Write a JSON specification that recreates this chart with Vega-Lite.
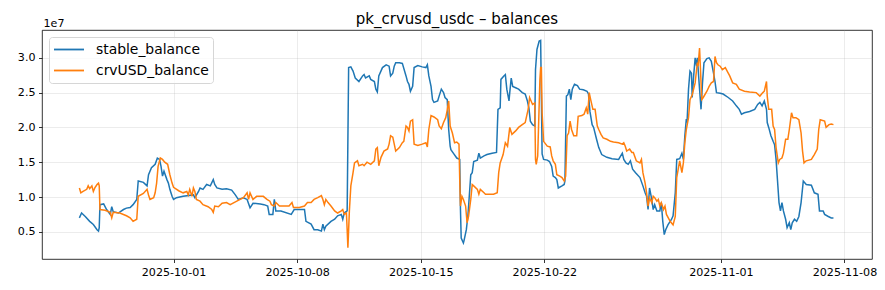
{
"$schema": "https://vega.github.io/schema/vega-lite/v6.json",
"width": 830, "height": 229,
"autosize": {"type": "none"},
"padding": {"left": 42, "top": 30, "right": 13, "bottom": 31},
"title": {"text": "pk_crvusd_usdc – balances", "fontSize": 15, "font": "DejaVu Sans", "fontWeight": "normal", "color": "black", "anchor": "middle", "offset": 6, "dy": 16},
"datasets": {
"stable": [
{"t":"2025-09-25T16:00","v":7000000},{"t":"2025-09-25T19:00","v":7700000},{"t":"2025-09-26T00:00","v":7200000},{"t":"2025-09-26T06:00","v":6500000},{"t":"2025-09-26T11:00","v":6050000},{"t":"2025-09-26T16:00","v":5300000},{"t":"2025-09-26T18:00","v":5100000},{"t":"2025-09-26T19:00","v":5600000},{"t":"2025-09-26T20:00","v":8900000},
{"t":"2025-09-27T01:00","v":9000000},{"t":"2025-09-27T05:00","v":8200000},{"t":"2025-09-27T10:00","v":7500000},{"t":"2025-09-27T12:00","v":8600000},{"t":"2025-09-27T14:00","v":7900000},{"t":"2025-09-27T21:00","v":7700000},
{"t":"2025-09-28T04:00","v":8200000},{"t":"2025-09-28T08:00","v":8400000},{"t":"2025-09-28T13:00","v":8500000},{"t":"2025-09-28T17:00","v":8900000},{"t":"2025-09-28T22:00","v":9650000},
{"t":"2025-09-29T00:00","v":12300000},{"t":"2025-09-29T07:00","v":12100000},{"t":"2025-09-29T12:00","v":11600000},{"t":"2025-09-29T14:00","v":13200000},{"t":"2025-09-29T18:00","v":14200000},{"t":"2025-09-29T23:00","v":14700000},
{"t":"2025-09-30T02:00","v":15600000},{"t":"2025-09-30T05:00","v":15400000},{"t":"2025-09-30T07:00","v":14400000},{"t":"2025-09-30T09:00","v":13000000},{"t":"2025-09-30T11:00","v":13700000},{"t":"2025-09-30T15:00","v":12500000},{"t":"2025-09-30T17:00","v":12000000},{"t":"2025-09-30T19:00","v":11100000},{"t":"2025-09-30T22:00","v":10100000},
{"t":"2025-10-01T00:00","v":9650000},{"t":"2025-10-01T04:00","v":9900000},{"t":"2025-10-01T13:00","v":10100000},
{"t":"2025-10-02T03:00","v":10300000},{"t":"2025-10-02T05:00","v":9900000},{"t":"2025-10-02T10:00","v":10800000},{"t":"2025-10-02T12:00","v":11300000},{"t":"2025-10-02T16:00","v":11100000},{"t":"2025-10-02T21:00","v":11800000},
{"t":"2025-10-03T02:00","v":11600000},{"t":"2025-10-03T06:00","v":12500000},{"t":"2025-10-03T08:00","v":11800000},{"t":"2025-10-03T11:00","v":11300000},{"t":"2025-10-03T18:00","v":11100000},
{"t":"2025-10-04T00:00","v":11200000},{"t":"2025-10-04T07:00","v":11000000},{"t":"2025-10-04T12:00","v":10300000},{"t":"2025-10-04T16:00","v":9650000},{"t":"2025-10-04T23:00","v":9900000},
{"t":"2025-10-05T04:00","v":9650000},{"t":"2025-10-05T08:00","v":8450000},{"t":"2025-10-05T12:00","v":9100000},{"t":"2025-10-05T22:00","v":9000000},
{"t":"2025-10-06T03:00","v":8900000},{"t":"2025-10-06T08:00","v":8700000},{"t":"2025-10-06T10:00","v":7500000},{"t":"2025-10-06T15:00","v":7500000},{"t":"2025-10-06T17:00","v":9650000},{"t":"2025-10-06T19:00","v":8000000},
{"t":"2025-10-07T02:00","v":8000000},{"t":"2025-10-07T16:00","v":7500000},{"t":"2025-10-07T20:00","v":8200000},
{"t":"2025-10-08T10:00","v":8200000},{"t":"2025-10-08T12:00","v":6500000},{"t":"2025-10-08T19:00","v":6100000},{"t":"2025-10-08T23:00","v":5300000},
{"t":"2025-10-09T04:00","v":5300000},{"t":"2025-10-09T09:00","v":5100000},{"t":"2025-10-09T11:00","v":6100000},{"t":"2025-10-09T13:00","v":5300000},{"t":"2025-10-09T15:00","v":5800000},{"t":"2025-10-09T22:00","v":6500000},
{"t":"2025-10-10T03:00","v":6800000},{"t":"2025-10-10T07:00","v":7300000},{"t":"2025-10-10T12:00","v":7500000},{"t":"2025-10-10T14:00","v":6800000},{"t":"2025-10-10T16:00","v":7700000},{"t":"2025-10-10T20:00","v":8000000},{"t":"2025-10-10T22:00","v":28600000},
{"t":"2025-10-11T01:00","v":28700000},{"t":"2025-10-11T04:00","v":28100000},{"t":"2025-10-11T07:00","v":27100000},{"t":"2025-10-11T12:00","v":26600000},{"t":"2025-10-11T17:00","v":27400000},{"t":"2025-10-11T19:00","v":27600000},{"t":"2025-10-11T21:00","v":27100000},
{"t":"2025-10-12T02:00","v":27400000},{"t":"2025-10-12T04:00","v":26900000},{"t":"2025-10-12T09:00","v":26600000},{"t":"2025-10-12T11:00","v":25500000},{"t":"2025-10-12T13:00","v":25100000},{"t":"2025-10-12T15:00","v":27400000},{"t":"2025-10-12T20:00","v":28600000},
{"t":"2025-10-13T01:00","v":29000000},{"t":"2025-10-13T05:00","v":28800000},{"t":"2025-10-13T07:00","v":27400000},{"t":"2025-10-13T10:00","v":27800000},{"t":"2025-10-13T12:00","v":28800000},{"t":"2025-10-13T14:00","v":29300000},{"t":"2025-10-13T19:00","v":29300000},{"t":"2025-10-13T23:00","v":29200000},
{"t":"2025-10-14T04:00","v":27400000},{"t":"2025-10-14T06:00","v":26600000},{"t":"2025-10-14T08:00","v":26200000},{"t":"2025-10-14T10:00","v":25200000},{"t":"2025-10-14T13:00","v":25900000},{"t":"2025-10-14T15:00","v":28600000},{"t":"2025-10-14T20:00","v":28900000},
{"t":"2025-10-15T02:00","v":28700000},{"t":"2025-10-15T07:00","v":28600000},{"t":"2025-10-15T09:00","v":29000000},{"t":"2025-10-15T11:00","v":27400000},{"t":"2025-10-15T14:00","v":25900000},{"t":"2025-10-15T16:00","v":24000000},{"t":"2025-10-15T18:00","v":23600000},{"t":"2025-10-15T23:00","v":23800000},
{"t":"2025-10-16T01:00","v":24500000},{"t":"2025-10-16T04:00","v":25500000},{"t":"2025-10-16T07:00","v":25000000},{"t":"2025-10-16T09:00","v":24300000},{"t":"2025-10-16T12:00","v":24000000},{"t":"2025-10-16T14:00","v":19700000},{"t":"2025-10-16T16:00","v":17300000},{"t":"2025-10-16T17:00","v":16800000},{"t":"2025-10-16T21:00","v":16200000},
{"t":"2025-10-17T01:00","v":15600000},{"t":"2025-10-17T05:00","v":15400000},{"t":"2025-10-17T06:00","v":8200000},{"t":"2025-10-17T07:00","v":4100000},{"t":"2025-10-17T10:00","v":3400000},{"t":"2025-10-17T11:00","v":3800000},{"t":"2025-10-17T14:00","v":5300000},{"t":"2025-10-17T16:00","v":7200000},{"t":"2025-10-17T17:00","v":8600000},{"t":"2025-10-17T20:00","v":13200000},{"t":"2025-10-17T22:00","v":13500000},
{"t":"2025-10-18T00:00","v":15100000},{"t":"2025-10-18T05:00","v":15300000},{"t":"2025-10-18T07:00","v":16300000},{"t":"2025-10-18T09:00","v":15600000},{"t":"2025-10-18T14:00","v":15900000},{"t":"2025-10-18T18:00","v":16100000},
{"t":"2025-10-19T01:00","v":16300000},{"t":"2025-10-19T07:00","v":16400000},{"t":"2025-10-19T09:00","v":22600000},{"t":"2025-10-19T12:00","v":22800000},{"t":"2025-10-19T13:00","v":26900000},{"t":"2025-10-19T17:00","v":27400000},{"t":"2025-10-19T19:00","v":27600000},{"t":"2025-10-19T21:00","v":25500000},
{"t":"2025-10-20T00:00","v":23800000},{"t":"2025-10-20T01:00","v":25000000},{"t":"2025-10-20T03:00","v":27100000},{"t":"2025-10-20T05:00","v":25900000},{"t":"2025-10-20T09:00","v":25700000},{"t":"2025-10-20T13:00","v":25500000},{"t":"2025-10-20T18:00","v":25000000},{"t":"2025-10-20T22:00","v":24800000},
{"t":"2025-10-21T01:00","v":23800000},{"t":"2025-10-21T03:00","v":22800000},{"t":"2025-10-21T05:00","v":20900000},{"t":"2025-10-21T08:00","v":20400000},{"t":"2025-10-21T11:00","v":20200000},{"t":"2025-10-21T12:00","v":28300000},{"t":"2025-10-21T14:00","v":31200000},{"t":"2025-10-21T17:00","v":32400000},{"t":"2025-10-21T19:00","v":32500000},{"t":"2025-10-21T21:00","v":16200000},{"t":"2025-10-21T23:00","v":15400000},
{"t":"2025-10-22T04:00","v":15300000},{"t":"2025-10-22T07:00","v":15100000},{"t":"2025-10-22T10:00","v":14400000},{"t":"2025-10-22T12:00","v":13000000},{"t":"2025-10-22T15:00","v":12800000},{"t":"2025-10-22T17:00","v":12500000},{"t":"2025-10-22T19:00","v":11300000},
{"t":"2025-10-23T00:00","v":11600000},{"t":"2025-10-23T03:00","v":11800000},{"t":"2025-10-23T04:00","v":12300000},{"t":"2025-10-23T06:00","v":24500000},{"t":"2025-10-23T08:00","v":24700000},{"t":"2025-10-23T10:00","v":25500000},{"t":"2025-10-23T12:00","v":24000000},{"t":"2025-10-23T14:00","v":25500000},{"t":"2025-10-23T17:00","v":26200000},{"t":"2025-10-23T21:00","v":26000000},
{"t":"2025-10-24T00:00","v":25500000},{"t":"2025-10-24T05:00","v":25400000},{"t":"2025-10-24T10:00","v":25200000},{"t":"2025-10-24T12:00","v":24800000},{"t":"2025-10-24T14:00","v":22300000},{"t":"2025-10-24T17:00","v":20400000},{"t":"2025-10-24T19:00","v":20000000},{"t":"2025-10-24T23:00","v":18300000},
{"t":"2025-10-25T02:00","v":17100000},{"t":"2025-10-25T06:00","v":16100000},{"t":"2025-10-25T13:00","v":15700000},{"t":"2025-10-25T20:00","v":15500000},
{"t":"2025-10-26T05:00","v":15400000},{"t":"2025-10-26T10:00","v":16300000},{"t":"2025-10-26T12:00","v":15400000},{"t":"2025-10-26T15:00","v":14900000},{"t":"2025-10-26T18:00","v":14700000},{"t":"2025-10-26T21:00","v":15200000},
{"t":"2025-10-27T00:00","v":14000000},{"t":"2025-10-27T04:00","v":13500000},{"t":"2025-10-27T10:00","v":12800000},{"t":"2025-10-27T14:00","v":11600000},{"t":"2025-10-27T17:00","v":10600000},{"t":"2025-10-27T19:00","v":10100000},{"t":"2025-10-27T21:00","v":8200000},{"t":"2025-10-27T23:00","v":11300000},
{"t":"2025-10-28T02:00","v":9650000},{"t":"2025-10-28T04:00","v":8200000},{"t":"2025-10-28T06:00","v":8900000},{"t":"2025-10-28T09:00","v":8000000},{"t":"2025-10-28T13:00","v":8000000},{"t":"2025-10-28T15:00","v":9200000},{"t":"2025-10-28T17:00","v":6500000},{"t":"2025-10-28T19:00","v":4600000},{"t":"2025-10-28T21:00","v":5300000},
{"t":"2025-10-29T00:00","v":6000000},{"t":"2025-10-29T05:00","v":6800000},{"t":"2025-10-29T07:00","v":7300000},{"t":"2025-10-29T10:00","v":10600000},{"t":"2025-10-29T12:00","v":15400000},{"t":"2025-10-29T16:00","v":15500000},{"t":"2025-10-29T19:00","v":16300000},{"t":"2025-10-29T21:00","v":15400000},{"t":"2025-10-29T23:00","v":18800000},
{"t":"2025-10-30T01:00","v":21200000},{"t":"2025-10-30T02:00","v":20700000},{"t":"2025-10-30T04:00","v":25500000},{"t":"2025-10-30T06:00","v":28100000},{"t":"2025-10-30T08:00","v":27800000},{"t":"2025-10-30T09:00","v":24300000},{"t":"2025-10-30T11:00","v":27400000},{"t":"2025-10-30T13:00","v":30000000},{"t":"2025-10-30T15:00","v":28800000},{"t":"2025-10-30T16:00","v":30000000},{"t":"2025-10-30T19:00","v":25500000},{"t":"2025-10-30T21:00","v":22600000},{"t":"2025-10-30T23:00","v":26400000},
{"t":"2025-10-31T01:00","v":29300000},{"t":"2025-10-31T05:00","v":29900000},{"t":"2025-10-31T08:00","v":30000000},{"t":"2025-10-31T11:00","v":29500000},{"t":"2025-10-31T14:00","v":27800000},{"t":"2025-10-31T16:00","v":26600000},{"t":"2025-10-31T18:00","v":25000000},{"t":"2025-10-31T23:00","v":24900000},
{"t":"2025-11-01T03:00","v":24800000},{"t":"2025-11-01T10:00","v":24300000},{"t":"2025-11-01T16:00","v":23800000},{"t":"2025-11-01T21:00","v":23100000},
{"t":"2025-11-02T01:00","v":22600000},{"t":"2025-11-02T04:00","v":21900000},{"t":"2025-11-02T08:00","v":22100000},{"t":"2025-11-02T15:00","v":22300000},{"t":"2025-11-02T22:00","v":22600000},
{"t":"2025-11-03T02:00","v":23300000},{"t":"2025-11-03T05:00","v":23600000},{"t":"2025-11-03T08:00","v":23100000},{"t":"2025-11-03T11:00","v":23800000},{"t":"2025-11-03T14:00","v":22600000},{"t":"2025-11-03T15:00","v":20700000},{"t":"2025-11-03T17:00","v":20000000},{"t":"2025-11-03T20:00","v":18800000},{"t":"2025-11-03T23:00","v":18000000},
{"t":"2025-11-04T01:00","v":17500000},{"t":"2025-11-04T03:00","v":15400000},{"t":"2025-11-04T05:00","v":12300000},{"t":"2025-11-04T07:00","v":9200000},{"t":"2025-11-04T09:00","v":8000000},{"t":"2025-11-04T11:00","v":9200000},{"t":"2025-11-04T13:00","v":8000000},{"t":"2025-11-04T16:00","v":6800000},{"t":"2025-11-04T18:00","v":5600000},{"t":"2025-11-04T21:00","v":6300000},{"t":"2025-11-04T23:00","v":5300000},
{"t":"2025-11-05T01:00","v":6300000},{"t":"2025-11-05T04:00","v":6800000},{"t":"2025-11-05T07:00","v":6500000},{"t":"2025-11-05T10:00","v":7200000},{"t":"2025-11-05T13:00","v":9200000},{"t":"2025-11-05T16:00","v":12300000},{"t":"2025-11-05T20:00","v":11800000},
{"t":"2025-11-06T03:00","v":11700000},{"t":"2025-11-06T07:00","v":10600000},{"t":"2025-11-06T12:00","v":10400000},{"t":"2025-11-06T14:00","v":8000000},{"t":"2025-11-06T19:00","v":8000000},{"t":"2025-11-06T21:00","v":7500000},
{"t":"2025-11-07T02:00","v":7200000},{"t":"2025-11-07T06:00","v":7000000},{"t":"2025-11-07T09:00","v":7000000}
],
"crvusd": [
{"t":"2025-09-25T16:00","v":11300000},{"t":"2025-09-25T18:00","v":10600000},{"t":"2025-09-25T21:00","v":10800000},{"t":"2025-09-26T02:00","v":11100000},{"t":"2025-09-26T04:00","v":11600000},{"t":"2025-09-26T06:00","v":11200000},{"t":"2025-09-26T09:00","v":11600000},{"t":"2025-09-26T11:00","v":10800000},{"t":"2025-09-26T13:00","v":11300000},{"t":"2025-09-26T16:00","v":11800000},{"t":"2025-09-26T18:00","v":12000000},{"t":"2025-09-26T19:00","v":11600000},{"t":"2025-09-26T20:00","v":8200000},
{"t":"2025-09-27T03:00","v":8100000},{"t":"2025-09-27T10:00","v":7800000},{"t":"2025-09-27T12:00","v":7000000},{"t":"2025-09-27T14:00","v":7800000},{"t":"2025-09-27T23:00","v":7700000},
{"t":"2025-09-28T08:00","v":7300000},{"t":"2025-09-28T13:00","v":7000000},{"t":"2025-09-28T17:00","v":6500000},{"t":"2025-09-28T22:00","v":6800000},
{"t":"2025-09-29T00:00","v":10100000},{"t":"2025-09-29T07:00","v":10500000},{"t":"2025-09-29T12:00","v":11100000},{"t":"2025-09-29T14:00","v":10300000},{"t":"2025-09-29T16:00","v":9650000},{"t":"2025-09-29T21:00","v":9900000},{"t":"2025-09-29T23:00","v":10600000},
{"t":"2025-09-30T01:00","v":12000000},{"t":"2025-09-30T03:00","v":14400000},{"t":"2025-09-30T06:00","v":15600000},{"t":"2025-09-30T09:00","v":15400000},{"t":"2025-09-30T12:00","v":15000000},{"t":"2025-09-30T16:00","v":14700000},{"t":"2025-09-30T19:00","v":13200000},{"t":"2025-09-30T22:00","v":12000000},
{"t":"2025-10-01T00:00","v":11400000},{"t":"2025-10-01T07:00","v":10900000},{"t":"2025-10-01T13:00","v":10600000},{"t":"2025-10-01T18:00","v":10800000},{"t":"2025-10-01T20:00","v":10300000},{"t":"2025-10-01T22:00","v":11100000},
{"t":"2025-10-02T01:00","v":10100000},{"t":"2025-10-02T03:00","v":11300000},{"t":"2025-10-02T05:00","v":10800000},{"t":"2025-10-02T07:00","v":9650000},{"t":"2025-10-02T12:00","v":9400000},{"t":"2025-10-02T16:00","v":8900000},{"t":"2025-10-02T23:00","v":8600000},
{"t":"2025-10-03T04:00","v":8200000},{"t":"2025-10-03T06:00","v":7800000},{"t":"2025-10-03T08:00","v":8700000},{"t":"2025-10-03T13:00","v":8600000},{"t":"2025-10-03T18:00","v":9100000},
{"t":"2025-10-04T00:00","v":9200000},{"t":"2025-10-04T05:00","v":8900000},{"t":"2025-10-04T14:00","v":9400000},{"t":"2025-10-04T23:00","v":9900000},
{"t":"2025-10-05T04:00","v":10600000},{"t":"2025-10-05T06:00","v":9650000},{"t":"2025-10-05T08:00","v":10600000},{"t":"2025-10-05T12:00","v":9650000},{"t":"2025-10-05T17:00","v":10100000},
{"t":"2025-10-06T02:00","v":10100000},{"t":"2025-10-06T07:00","v":9650000},{"t":"2025-10-06T11:00","v":9400000},{"t":"2025-10-06T13:00","v":8900000},{"t":"2025-10-06T17:00","v":8700000},{"t":"2025-10-06T19:00","v":9200000},
{"t":"2025-10-07T00:00","v":8700000},{"t":"2025-10-07T13:00","v":8700000},{"t":"2025-10-07T17:00","v":9200000},{"t":"2025-10-07T19:00","v":8500000},
{"t":"2025-10-08T03:00","v":8500000},{"t":"2025-10-08T10:00","v":8700000},{"t":"2025-10-08T14:00","v":9200000},{"t":"2025-10-08T19:00","v":9200000},{"t":"2025-10-08T23:00","v":9650000},
{"t":"2025-10-09T04:00","v":9900000},{"t":"2025-10-09T09:00","v":10200000},{"t":"2025-10-09T11:00","v":9650000},{"t":"2025-10-09T13:00","v":8900000},{"t":"2025-10-09T15:00","v":9650000},{"t":"2025-10-09T18:00","v":9200000},{"t":"2025-10-09T22:00","v":8700000},
{"t":"2025-10-10T03:00","v":8000000},{"t":"2025-10-10T07:00","v":7700000},{"t":"2025-10-10T12:00","v":8000000},{"t":"2025-10-10T14:00","v":8200000},{"t":"2025-10-10T16:00","v":7500000},{"t":"2025-10-10T19:00","v":7700000},{"t":"2025-10-10T20:00","v":5300000},{"t":"2025-10-10T21:00","v":2700000},{"t":"2025-10-10T22:00","v":5300000},{"t":"2025-10-10T23:00","v":8000000},
{"t":"2025-10-11T01:00","v":11600000},{"t":"2025-10-11T04:00","v":13500000},{"t":"2025-10-11T06:00","v":14900000},{"t":"2025-10-11T10:00","v":15200000},{"t":"2025-10-11T12:00","v":14500000},{"t":"2025-10-11T17:00","v":14700000},{"t":"2025-10-11T19:00","v":14500000},{"t":"2025-10-11T23:00","v":15000000},
{"t":"2025-10-12T04:00","v":14700000},{"t":"2025-10-12T09:00","v":15200000},{"t":"2025-10-12T11:00","v":16900000},{"t":"2025-10-12T13:00","v":17100000},{"t":"2025-10-12T15:00","v":14500000},{"t":"2025-10-12T18:00","v":15700000},{"t":"2025-10-12T22:00","v":16600000},
{"t":"2025-10-13T03:00","v":16900000},{"t":"2025-10-13T05:00","v":17600000},{"t":"2025-10-13T07:00","v":18800000},{"t":"2025-10-13T10:00","v":18600000},{"t":"2025-10-13T12:00","v":17600000},{"t":"2025-10-13T14:00","v":16600000},{"t":"2025-10-13T19:00","v":17100000},{"t":"2025-10-13T23:00","v":17800000},
{"t":"2025-10-14T01:00","v":18000000},{"t":"2025-10-14T04:00","v":20200000},{"t":"2025-10-14T06:00","v":20000000},{"t":"2025-10-14T08:00","v":19500000},{"t":"2025-10-14T10:00","v":20900000},{"t":"2025-10-14T13:00","v":21100000},{"t":"2025-10-14T15:00","v":17600000},{"t":"2025-10-14T20:00","v":17400000},
{"t":"2025-10-15T02:00","v":17600000},{"t":"2025-10-15T07:00","v":17800000},{"t":"2025-10-15T09:00","v":17200000},{"t":"2025-10-15T11:00","v":19700000},{"t":"2025-10-15T14:00","v":21700000},{"t":"2025-10-15T18:00","v":21500000},{"t":"2025-10-15T23:00","v":21100000},
{"t":"2025-10-16T01:00","v":20200000},{"t":"2025-10-16T04:00","v":19800000},{"t":"2025-10-16T07:00","v":20700000},{"t":"2025-10-16T10:00","v":21400000},{"t":"2025-10-16T12:00","v":22500000},{"t":"2025-10-16T14:00","v":23800000},{"t":"2025-10-16T16:00","v":20200000},{"t":"2025-10-16T19:00","v":19200000},{"t":"2025-10-16T22:00","v":17800000},
{"t":"2025-10-17T01:00","v":17900000},{"t":"2025-10-17T04:00","v":17600000},{"t":"2025-10-17T05:00","v":12600000},{"t":"2025-10-17T06:00","v":8700000},{"t":"2025-10-17T08:00","v":10100000},{"t":"2025-10-17T10:00","v":9650000},{"t":"2025-10-17T13:00","v":8700000},{"t":"2025-10-17T15:00","v":6300000},{"t":"2025-10-17T17:00","v":7200000},{"t":"2025-10-17T20:00","v":9650000},{"t":"2025-10-17T22:00","v":11800000},
{"t":"2025-10-18T00:00","v":11600000},{"t":"2025-10-18T05:00","v":11100000},{"t":"2025-10-18T07:00","v":10400000},{"t":"2025-10-18T09:00","v":11100000},{"t":"2025-10-18T14:00","v":10600000},{"t":"2025-10-18T16:00","v":10400000},{"t":"2025-10-18T21:00","v":10400000},
{"t":"2025-10-19T03:00","v":10400000},{"t":"2025-10-19T08:00","v":10600000},{"t":"2025-10-19T10:00","v":13500000},{"t":"2025-10-19T12:00","v":14900000},{"t":"2025-10-19T16:00","v":16100000},{"t":"2025-10-19T19:00","v":17800000},{"t":"2025-10-19T22:00","v":17300000},
{"t":"2025-10-20T01:00","v":20000000},{"t":"2025-10-20T04:00","v":19000000},{"t":"2025-10-20T09:00","v":19500000},{"t":"2025-10-20T13:00","v":20000000},{"t":"2025-10-20T18:00","v":20400000},{"t":"2025-10-20T22:00","v":20700000},
{"t":"2025-10-21T02:00","v":22600000},{"t":"2025-10-21T04:00","v":24300000},{"t":"2025-10-21T08:00","v":23300000},{"t":"2025-10-21T11:00","v":23500000},{"t":"2025-10-21T12:00","v":15400000},{"t":"2025-10-21T13:00","v":14700000},{"t":"2025-10-21T15:00","v":15900000},{"t":"2025-10-21T18:00","v":26900000},{"t":"2025-10-21T19:00","v":28600000},{"t":"2025-10-21T20:00","v":28600000},{"t":"2025-10-21T21:00","v":22100000},{"t":"2025-10-21T23:00","v":18000000},
{"t":"2025-10-22T04:00","v":17300000},{"t":"2025-10-22T08:00","v":17200000},{"t":"2025-10-22T10:00","v":15900000},{"t":"2025-10-22T12:00","v":15200000},{"t":"2025-10-22T15:00","v":14700000},{"t":"2025-10-22T17:00","v":13200000},{"t":"2025-10-22T21:00","v":13000000},
{"t":"2025-10-23T00:00","v":12800000},{"t":"2025-10-23T03:00","v":12300000},{"t":"2025-10-23T05:00","v":13000000},{"t":"2025-10-23T07:00","v":18800000},{"t":"2025-10-23T09:00","v":19200000},{"t":"2025-10-23T11:00","v":20900000},{"t":"2025-10-23T13:00","v":19700000},{"t":"2025-10-23T16:00","v":18800000},{"t":"2025-10-23T20:00","v":18800000},{"t":"2025-10-23T22:00","v":21600000},
{"t":"2025-10-24T03:00","v":21700000},{"t":"2025-10-24T06:00","v":21900000},{"t":"2025-10-24T09:00","v":22800000},{"t":"2025-10-24T11:00","v":21900000},{"t":"2025-10-24T13:00","v":25000000},{"t":"2025-10-24T15:00","v":24000000},{"t":"2025-10-24T18:00","v":22600000},{"t":"2025-10-24T21:00","v":22600000},
{"t":"2025-10-25T00:00","v":20200000},{"t":"2025-10-25T02:00","v":19700000},{"t":"2025-10-25T05:00","v":19000000},{"t":"2025-10-25T08:00","v":18500000},{"t":"2025-10-25T13:00","v":18300000},{"t":"2025-10-25T18:00","v":18000000},{"t":"2025-10-25T22:00","v":17900000},
{"t":"2025-10-26T05:00","v":17800000},{"t":"2025-10-26T10:00","v":17600000},{"t":"2025-10-26T12:00","v":17800000},{"t":"2025-10-26T14:00","v":17300000},{"t":"2025-10-26T16:00","v":16600000},{"t":"2025-10-26T20:00","v":16900000},{"t":"2025-10-26T23:00","v":16400000},
{"t":"2025-10-27T01:00","v":16400000},{"t":"2025-10-27T05:00","v":15200000},{"t":"2025-10-27T10:00","v":14900000},{"t":"2025-10-27T12:00","v":15400000},{"t":"2025-10-27T14:00","v":13500000},{"t":"2025-10-27T17:00","v":12000000},{"t":"2025-10-27T19:00","v":10600000},{"t":"2025-10-27T21:00","v":8700000},{"t":"2025-10-27T23:00","v":9900000},
{"t":"2025-10-28T02:00","v":9200000},{"t":"2025-10-28T04:00","v":10100000},{"t":"2025-10-28T06:00","v":9900000},{"t":"2025-10-28T09:00","v":9400000},{"t":"2025-10-28T11:00","v":9650000},{"t":"2025-10-28T13:00","v":8700000},{"t":"2025-10-28T15:00","v":9200000},{"t":"2025-10-28T18:00","v":8200000},{"t":"2025-10-28T20:00","v":8700000},{"t":"2025-10-28T22:00","v":7500000},
{"t":"2025-10-29T03:00","v":6500000},{"t":"2025-10-29T07:00","v":6000000},{"t":"2025-10-29T10:00","v":7200000},{"t":"2025-10-29T12:00","v":12800000},{"t":"2025-10-29T14:00","v":14000000},{"t":"2025-10-29T16:00","v":15200000},{"t":"2025-10-29T19:00","v":13500000},{"t":"2025-10-29T21:00","v":14900000},{"t":"2025-10-29T23:00","v":17800000},
{"t":"2025-10-30T01:00","v":19700000},{"t":"2025-10-30T04:00","v":21400000},{"t":"2025-10-30T06:00","v":24000000},{"t":"2025-10-30T09:00","v":24700000},{"t":"2025-10-30T13:00","v":26400000},{"t":"2025-10-30T16:00","v":29300000},{"t":"2025-10-30T17:00","v":28800000},{"t":"2025-10-30T19:00","v":31400000},{"t":"2025-10-30T22:00","v":24000000},
{"t":"2025-10-31T00:00","v":24300000},{"t":"2025-10-31T05:00","v":25200000},{"t":"2025-10-31T08:00","v":25900000},{"t":"2025-10-31T11:00","v":26400000},{"t":"2025-10-31T14:00","v":26600000},{"t":"2025-10-31T16:00","v":30200000},{"t":"2025-10-31T18:00","v":29300000},{"t":"2025-10-31T20:00","v":29000000},{"t":"2025-10-31T23:00","v":28800000},
{"t":"2025-11-01T02:00","v":28300000},{"t":"2025-11-01T06:00","v":28600000},{"t":"2025-11-01T10:00","v":27800000},{"t":"2025-11-01T12:00","v":27400000},{"t":"2025-11-01T16:00","v":26400000},{"t":"2025-11-01T21:00","v":26200000},
{"t":"2025-11-02T01:00","v":25500000},{"t":"2025-11-02T08:00","v":25200000},{"t":"2025-11-02T15:00","v":25100000},
{"t":"2025-11-03T00:00","v":25000000},{"t":"2025-11-03T05:00","v":24500000},{"t":"2025-11-03T09:00","v":25000000},{"t":"2025-11-03T11:00","v":25200000},{"t":"2025-11-03T14:00","v":26600000},{"t":"2025-11-03T15:00","v":24500000},{"t":"2025-11-03T17:00","v":22600000},{"t":"2025-11-03T21:00","v":22600000},{"t":"2025-11-03T23:00","v":20200000},
{"t":"2025-11-04T01:00","v":19700000},{"t":"2025-11-04T03:00","v":17100000},{"t":"2025-11-04T06:00","v":14900000},{"t":"2025-11-04T08:00","v":15400000},{"t":"2025-11-04T11:00","v":15600000},{"t":"2025-11-04T13:00","v":16300000},{"t":"2025-11-04T16:00","v":18300000},{"t":"2025-11-04T19:00","v":18300000},{"t":"2025-11-04T21:00","v":19700000},
{"t":"2025-11-05T00:00","v":22100000},{"t":"2025-11-05T02:00","v":21400000},{"t":"2025-11-05T06:00","v":21400000},{"t":"2025-11-05T10:00","v":21100000},{"t":"2025-11-05T13:00","v":19200000},{"t":"2025-11-05T15:00","v":16600000},{"t":"2025-11-05T17:00","v":14900000},{"t":"2025-11-05T20:00","v":15200000},
{"t":"2025-11-06T03:00","v":15400000},{"t":"2025-11-06T07:00","v":16100000},{"t":"2025-11-06T11:00","v":16900000},{"t":"2025-11-06T13:00","v":19700000},{"t":"2025-11-06T15:00","v":21100000},{"t":"2025-11-06T21:00","v":20900000},{"t":"2025-11-06T23:00","v":20000000},
{"t":"2025-11-07T03:00","v":20400000},{"t":"2025-11-07T06:00","v":20500000},{"t":"2025-11-07T09:00","v":20400000}
]
},
"encoding": {
 "x": {"field": "t", "type": "temporal",
  "scale": {"domain": [{"year": 2025, "month": 9, "date": 23, "hours": 13, "minutes": 12}, {"year": 2025, "month": 11, "date": 9, "hours": 13, "minutes": 24}]},
  "axis": {"title": null, "format": "%Y-%m-%d", "labelAngle": 0, "labelFlush": false, "labelOverlap": false,
   "values": [{"year": 2025, "month": 10, "date": 1}, {"year": 2025, "month": 10, "date": 8}, {"year": 2025, "month": 10, "date": 15}, {"year": 2025, "month": 10, "date": 22}, {"year": 2025, "month": 11, "date": 1}, {"year": 2025, "month": 11, "date": 8}]}},
 "y": {"field": "v", "type": "quantitative",
  "scale": {"domain": [1090000, 34000000], "nice": false, "zero": false},
  "axis": {"title": "1e7", "titleAngle": 0, "titleAlign": "left", "titleBaseline": "alphabetic", "titleX": 1, "titleY": -4, "titleFontWeight": "normal", "titleFontSize": 11.1, "titleFont": "DejaVu Sans",
   "values": [5000000, 10000000, 15000000, 20000000, 25000000, 30000000], "labelExpr": "format(datum.value/1e7, '.1f')"}}
},
"layer": [
 {"data": {"name": "stable"}, "mark": {"type": "line", "strokeWidth": 1.5},
  "encoding": {"color": {"datum": "stable_balance", "scale": {"domain": ["stable_balance", "crvUSD_balance"], "range": ["#1f77b4", "#ff7f0e"]}, "legend": {"title": null}}}},
 {"data": {"name": "crvusd"}, "mark": {"type": "line", "strokeWidth": 1.5},
  "encoding": {"color": {"datum": "crvUSD_balance"}}}
],
"config": {
 "font": "DejaVu Sans",
 "view": {"stroke": "black", "strokeWidth": 0.8},
 "axis": {"domain": false, "tickColor": "black", "tickWidth": 0.8, "tickSize": 3.5, "labelFontSize": 11.1, "labelFont": "DejaVu Sans", "labelColor": "black", "labelPadding": 3.5, "gridColor": "#b0b0b0", "gridOpacity": 0.3, "gridWidth": 0.8, "titleColor": "black"},
 "legend": {"orient": "none", "legendX": 7, "legendY": 7, "symbolType": "stroke", "symbolSize": 900, "symbolStrokeWidth": 1.8, "labelFontSize": 13.9, "labelFont": "DejaVu Sans", "labelColor": "black", "labelOffset": 11, "padding": 4, "rowPadding": 4, "clipHeight": 17, "strokeColor": "#d6d6d6", "fillColor": "rgba(255,255,255,0.8)", "cornerRadius": 3}
}
}
